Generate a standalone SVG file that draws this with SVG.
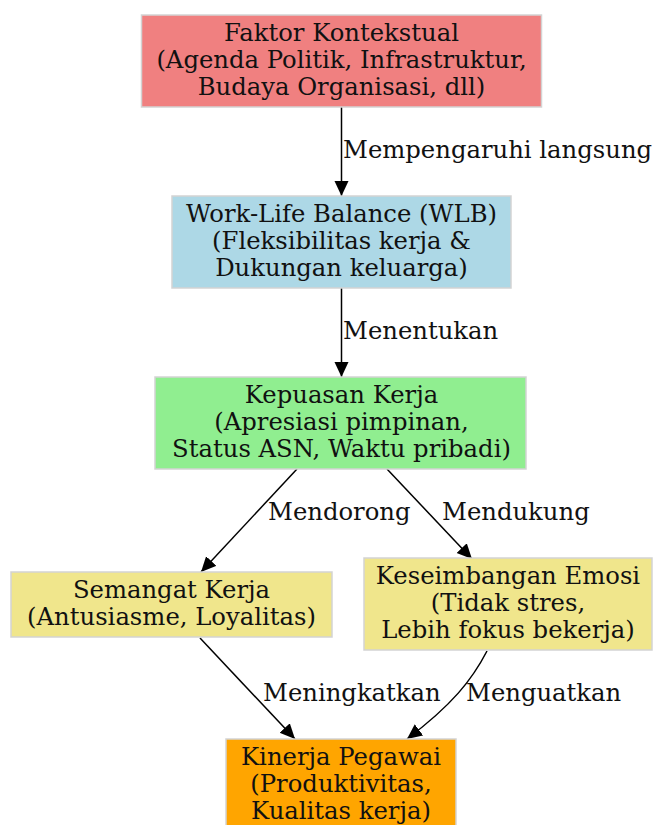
<svg xmlns="http://www.w3.org/2000/svg" width="653" height="825" viewBox="0 0 653 825">
<style>
.nt{font-family:"DejaVu Serif","Liberation Serif",serif;font-size:24.3px;fill:#111;text-anchor:middle}
.el{font-family:"DejaVu Serif","Liberation Serif",serif;font-size:24.3px;fill:#111}
.box{stroke:#d3d3d3;stroke-width:1.5}
.edge{fill:none;stroke:#000;stroke-width:1.5}
</style>
<defs>
<marker id="ah" markerUnits="userSpaceOnUse" markerWidth="16" markerHeight="16" refX="15" refY="7" orient="auto">
<polygon points="0,0 15,7 0,14" fill="#000"/>
</marker>
</defs>
<rect width="653" height="825" fill="#fff"/>
<g id="connectors">
<path class="edge" d="M341.5,107 L341.5,196" marker-end="url(#ah)"/>
<text class="el" x="343" y="158">Mempengaruhi langsung</text>
<path class="edge" d="M341.5,288 L341.5,377" marker-end="url(#ah)"/>
<text class="el" x="343" y="339">Menentukan</text>
<path class="edge" d="M297,469 L201,572" marker-end="url(#ah)"/>
<text class="el" x="268" y="520">Mendorong</text>
<path class="edge" d="M387,469 L472,559" marker-end="url(#ah)"/>
<text class="el" x="442" y="520">Mendukung</text>
<path class="edge" d="M200,638 L295,739" marker-end="url(#ah)"/>
<text class="el" x="263" y="701">Meningkatkan</text>
<path class="edge" d="M487,651 C472,680 452,705 407,739" marker-end="url(#ah)"/>
<text class="el" x="466" y="701">Menguatkan</text>
</g>
<g id="n1">
<rect class="box" x="141.5" y="15" width="400" height="92" fill="#f08080"/>
<text class="nt" x="341.5" y="41">Faktor Kontekstual</text>
<text class="nt" x="341.5" y="68">(Agenda Politik, Infrastruktur,</text>
<text class="nt" x="341.5" y="95">Budaya Organisasi, dll)</text>
</g>
<g id="n2">
<rect class="box" x="172" y="196" width="339" height="92" fill="#add8e6"/>
<text class="nt" x="341.5" y="222">Work-Life Balance (WLB)</text>
<text class="nt" x="341.5" y="249">(Fleksibilitas kerja &amp;</text>
<text class="nt" x="341.5" y="276">Dukungan keluarga)</text>
</g>
<g id="n3">
<rect class="box" x="155" y="377" width="371" height="92" fill="#90ee90"/>
<text class="nt" x="341.5" y="403">Kepuasan Kerja</text>
<text class="nt" x="341.5" y="430">(Apresiasi pimpinan,</text>
<text class="nt" x="341.5" y="457">Status ASN, Waktu pribadi)</text>
</g>
<g id="n4">
<rect class="box" x="11" y="572" width="321" height="65" fill="#f0e68c"/>
<text class="nt" x="171.5" y="598">Semangat Kerja</text>
<text class="nt" x="171.5" y="625">(Antusiasme, Loyalitas)</text>
</g>
<g id="n5">
<rect class="box" x="364" y="558" width="288" height="92" fill="#f0e68c"/>
<text class="nt" x="508" y="584">Keseimbangan Emosi</text>
<text class="nt" x="508" y="611">(Tidak stres,</text>
<text class="nt" x="508" y="638">Lebih fokus bekerja)</text>
</g>
<g id="n6">
<rect class="box" x="226" y="739" width="230" height="92" fill="#ffa500"/>
<text class="nt" x="341" y="765">Kinerja Pegawai</text>
<text class="nt" x="341" y="792">(Produktivitas,</text>
<text class="nt" x="341" y="819">Kualitas kerja)</text>
</g>
</svg>
